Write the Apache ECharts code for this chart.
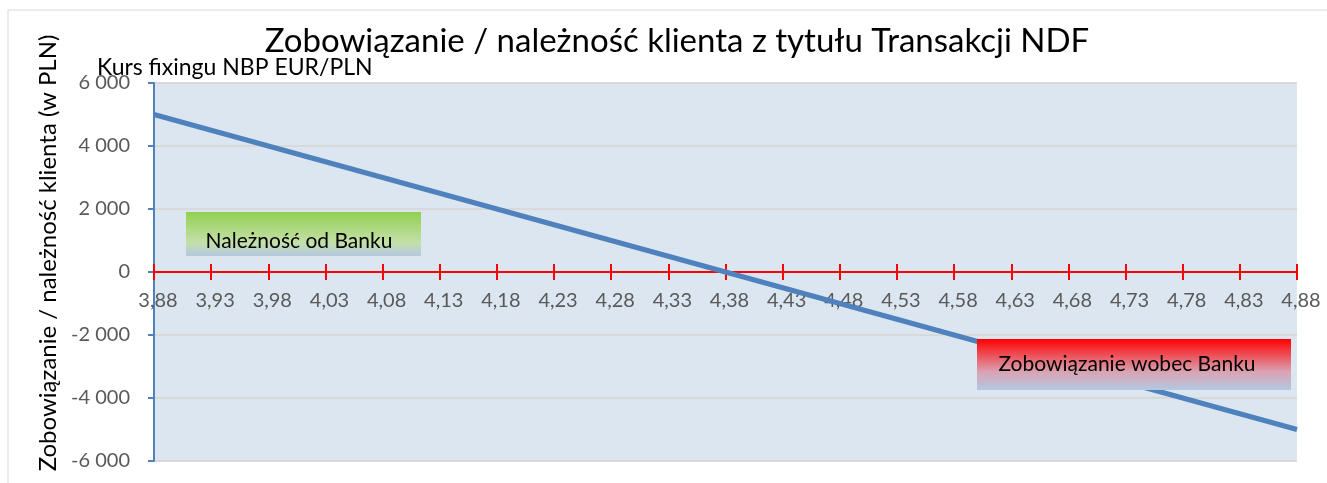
<!DOCTYPE html>
<html>
<head>
<meta charset="utf-8">
<script src="https://cdn.jsdelivr.net/npm/echarts@6/dist/echarts.min.js"></script>
<style>
  html, body { margin: 0; padding: 0; background: #fff; }
  #chart { width: 1327px; height: 483px; }
</style>
</head>
<body>
<div id="chart"></div>
<script>
// kurs fixingu (oś X)
var kursy = ['3,88', '3,93', '3,98', '4,03', '4,08', '4,13', '4,18', '4,23', '4,28', '4,33', '4,38',
             '4,43', '4,48', '4,53', '4,58', '4,63', '4,68', '4,73', '4,78', '4,83', '4,88'];
// zobowiązanie / należność klienta w PLN
var wynik = [5000, 4500, 4000, 3500, 3000, 2500, 2000, 1500, 1000, 500, 0,
             -500, -1000, -1500, -2000, -2500, -3000, -3500, -4000, -4500, -5000];

var font = 'Lato, "Open Sans", sans-serif';

function fmt(v) {
    // separator tysięcy = spacja
    var s = Math.abs(v).toString().replace(/\B(?=(\d{3})+(?!\d))/g, ' ');
    return (v < 0 ? '-' : '') + s;
}

var myChart = echarts.init(document.getElementById('chart'));
var option = {
    backgroundColor: '#fff',
    animation: false,
    title: [{
        text: 'Zobowiązanie / należność klienta z tytułu Transakcji NDF',
        left: 672, top: 20, textAlign: 'center',
        textStyle: { color: '#000', fontFamily: font, fontSize: 33, fontWeight: 'normal' }
    }, {
        text: 'Kurs fixingu NBP EUR/PLN',
        left: 92, top: 51,
        textStyle: { color: '#000', fontFamily: font, fontSize: 23, fontWeight: 'normal' }
    }],
    grid: [{
        left: 154, right: 30, top: 83, bottom: 22,
        outerBoundsMode: 'none',
        backgroundColor: '#dce6f1', show: true, borderWidth: 0
    }, {
        // siatka pomocnicza: jej dolna krawędź = poziom 0, tu stoją etykiety osi X
        left: 158, right: 26, top: 83, bottom: 211,
        outerBoundsMode: 'none'
    }],
    xAxis: [{
        type: 'category',
        data: kursy,
        boundaryGap: false,
        position: 'bottom',
        axisLine: { onZero: true, onZeroAxisIndex: 0, lineStyle: { color: '#ff0000', width: 2 } },
        axisTick: { show: true, length: 8, lineStyle: { color: '#ff0000', width: 2 } },
        axisLabel: { show: false },
        splitLine: { show: false }
    }, {
        // druga oś tylko dla kresek w górę
        type: 'category',
        data: kursy,
        boundaryGap: false,
        position: 'top',
        axisLine: { onZero: true, onZeroAxisIndex: 0, lineStyle: { color: '#ff0000', width: 2 } },
        axisTick: { show: true, length: 8, lineStyle: { color: '#ff0000', width: 2 } },
        axisLabel: { show: false },
        splitLine: { show: false }
    }, {
        type: 'category',
        gridIndex: 1,
        data: kursy,
        boundaryGap: false,
        axisLine: { show: false },
        axisTick: { show: false },
        axisLabel: { color: '#595959', fontFamily: font, fontSize: 20, margin: 19 },
        splitLine: { show: false }
    }],
    yAxis: [{
        type: 'value',
        min: -6000, max: 6000, interval: 2000,
        name: 'Zobowiązanie / należność klienta (w PLN)',
        nameLocation: 'middle', nameRotate: 90, nameGap: 84,
        nameTextStyle: { color: '#000', fontFamily: font, fontSize: 24, padding: [0, 0, 0, 38] },
        axisLine: { show: true, lineStyle: { color: '#4f81bd', width: 2 } },
        axisTick: { show: true, length: 6, lineStyle: { color: '#4f81bd', width: 2 } },
        axisLabel: { color: '#595959', fontFamily: font, fontSize: 20, margin: 24, formatter: fmt },
        splitLine: { show: true, lineStyle: { color: '#d9d9d9', width: 2 } }
    }, {
        type: 'value',
        gridIndex: 1,
        min: 0, max: 6000,
        show: false
    }],
    series: [{
        type: 'line',
        data: wynik,
        showSymbol: false,
        lineStyle: { color: '#4f81bd', width: 5 },
        z: 5
    }],
    graphic: [{
        type: 'rect',
        shape: { x: 8, y: 10, width: 1340, height: 500 },
        style: { fill: 'none', stroke: '#d9d9d9', lineWidth: 1 },
        z: -10
    }, {
        type: 'rect',
        shape: { x: 186, y: 212, width: 235, height: 44 },
        style: {
            fill: new echarts.graphic.LinearGradient(0, 0, 0, 1, [
                { offset: 0, color: '#92d050' },
                { offset: 0.7, color: '#c4e0a8' },
                { offset: 1, color: '#b3c8e2' }
            ])
        },
        z: 10
    }, {
        type: 'text',
        x: 299, y: 241,
        style: { text: 'Należność od Banku', fill: '#000', font: '21px ' + font, align: 'center', verticalAlign: 'middle' },
        z: 11
    }, {
        type: 'rect',
        shape: { x: 977, y: 339, width: 314, height: 51 },
        style: {
            fill: new echarts.graphic.LinearGradient(0, 0, 0, 1, [
                { offset: 0, color: '#ff0000' },
                { offset: 0.65, color: '#d9a4b4' },
                { offset: 1, color: '#b3c8e2' }
            ])
        },
        z: 10
    }, {
        type: 'text',
        x: 1127, y: 364,
        style: { text: 'Zobowiązanie wobec Banku', fill: '#000', font: '21px ' + font, align: 'center', verticalAlign: 'middle' },
        z: 11
    }]
};
myChart.setOption(option);
</script>
</body>
</html>
